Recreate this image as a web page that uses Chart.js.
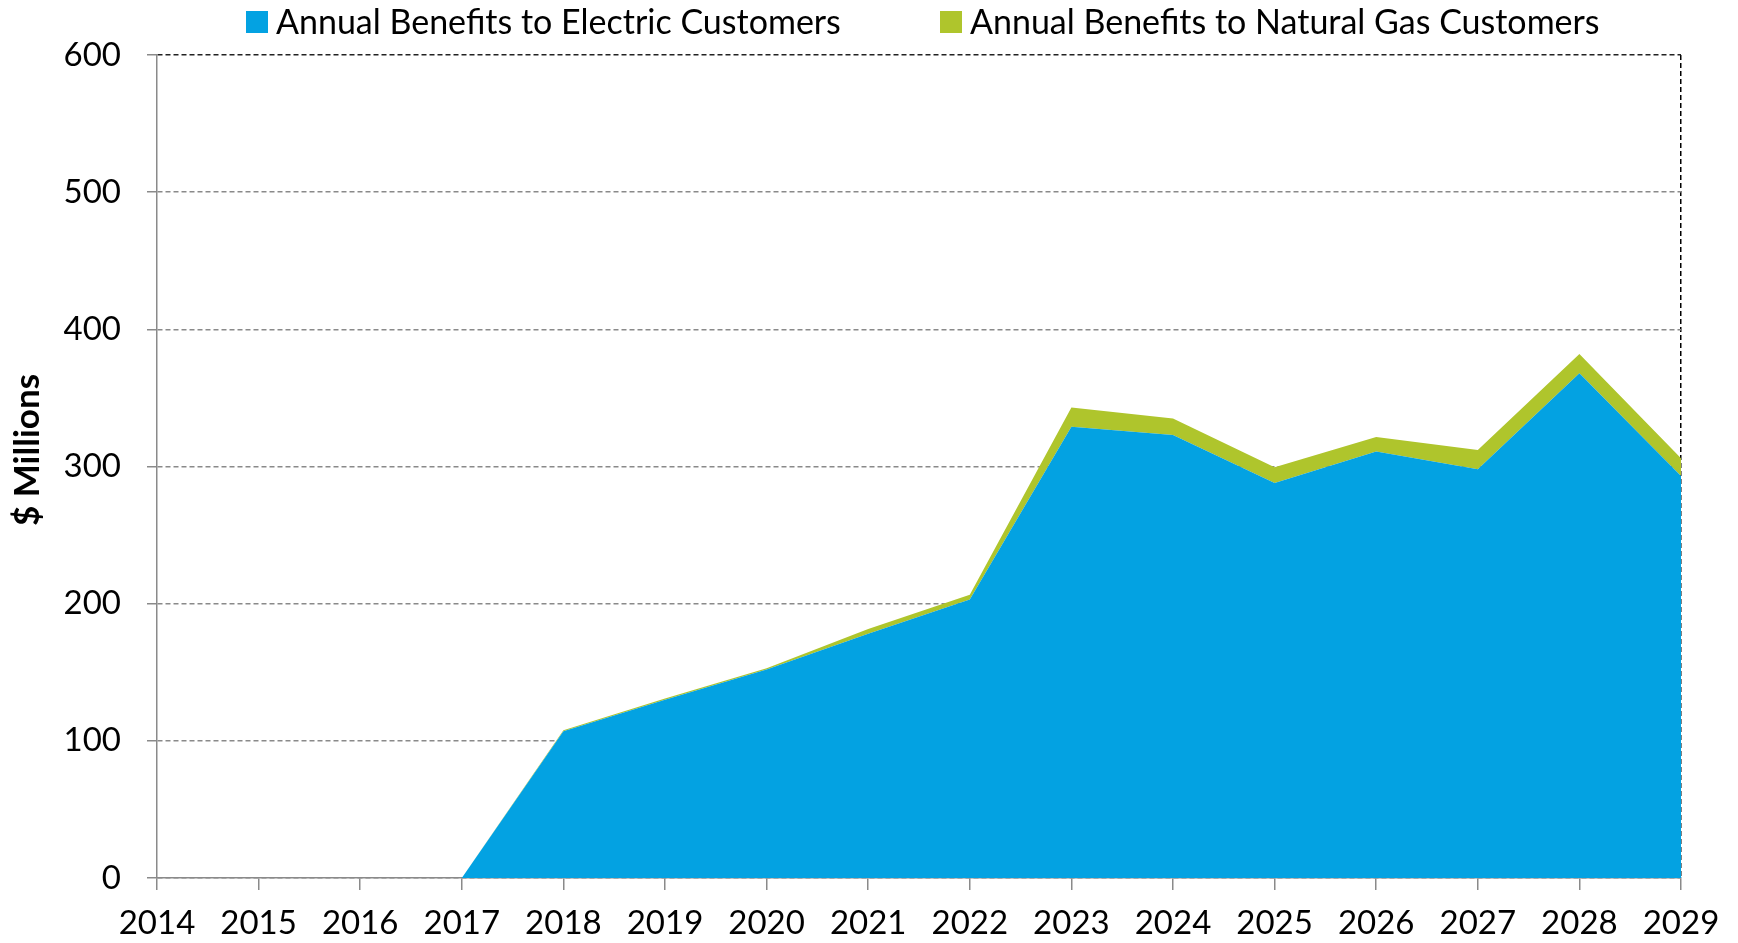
<!DOCTYPE html>
<html>
<head>
<meta charset="utf-8">
<title>Annual Benefits</title>
<script src="https://cdn.jsdelivr.net/npm/chart.js@4/dist/chart.umd.min.js"></script>
<style>
  html, body { margin: 0; padding: 0; background: #fff; }
  canvas { display: block; }
</style>
</head>
<body>
<canvas id="benefits" width="1738" height="943"></canvas>
<script>
// annual benefits, $ millions
const years = ["2014", "2015", "2016", "2017", "2018", "2019", "2020", "2021",
               "2022", "2023", "2024", "2025", "2026", "2027", "2028", "2029"];
const electricBenefits = [0, 0, 0, 0, 107, 130, 152, 178, 203, 329, 323, 288, 311, 298, 368, 293];
const gasBenefits = [0, 0, 0, 0, 0.7, 0.8, 1, 3.5, 3.5, 14, 12, 11.5, 10.5, 14, 14, 13];
const yTicks = [0, 100, 200, 300, 400, 500, 600];

const BLUE = "#03A2E2";
const GREEN = "#AFC52C";
const GRID_GREY = "#8a8a8a";
const FONT = "Lato";

// one-row legend with fixed item positions
const legendRow = {
  id: "legendRow",
  afterDraw(chart, args, opts) {
    const ctx = chart.ctx;
    ctx.save();
    ctx.font = opts.size + "px " + FONT;
    ctx.textBaseline = "middle";
    ctx.textAlign = "left";
    chart.data.datasets.forEach((ds, i) => {
      const x = opts.starts[i];
      ctx.fillStyle = ds.backgroundColor;
      ctx.fillRect(x, opts.y - opts.box / 2, opts.box, opts.box);
      ctx.fillStyle = "#000";
      ctx.fillText(ds.label, x + opts.box + opts.gap, opts.y + 1);
    });
    ctx.restore();
  }
};

// rotated y axis caption, sits a little above the axis middle
const axisCaption = {
  id: "axisCaption",
  afterDraw(chart, args, opts) {
    const ctx = chart.ctx;
    ctx.save();
    ctx.translate(opts.x, opts.y);
    ctx.rotate(-Math.PI / 2);
    ctx.font = "bold " + opts.size + "px " + FONT;
    ctx.textAlign = "center";
    ctx.textBaseline = "middle";
    ctx.fillStyle = "#000";
    ctx.fillText(opts.text, 0, 0);
    ctx.restore();
  }
};

const ctx = document.getElementById("benefits");
const chart = new Chart(ctx, {
  type: "line",
  data: {
    labels: years,
    datasets: [
      {
        label: "Annual Benefits to Electric Customers",
        data: electricBenefits,
        backgroundColor: BLUE,
        borderColor: BLUE,
        borderWidth: 0,
        pointRadius: 0,
        fill: "origin"
      },
      {
        label: "Annual Benefits to Natural Gas Customers",
        data: gasBenefits,
        backgroundColor: GREEN,
        borderColor: GREEN,
        borderWidth: 0,
        pointRadius: 0,
        fill: "-1"
      }
    ]
  },
  options: {
    responsive: false,
    animation: false,
    layout: { padding: { top: 55, right: 57, bottom: 0, left: 0 } },
    plugins: {
      legend: { display: false },
      tooltip: { enabled: false },
      legendRow: { starts: [246, 940], y: 22, box: 22, gap: 8, size: 34 },
      axisCaption: { text: "$ Millions", x: 28, y: 450, size: 35 }
    },
    scales: {
      x: {
        offset: false,
        grid: {
          color: c => (c.index === years.length - 1 ? "#000" : "rgba(0,0,0,0)"),
          lineWidth: 1.5,
          tickColor: GRID_GREY,
          tickLength: 12,
          tickWidth: 1.5
        },
        border: { color: GRID_GREY, width: 1.5, dash: [5, 3] },
        ticks: {
          color: "#000",
          font: { family: FONT, size: 33 },
          padding: 14,
          maxRotation: 0,
          autoSkip: false
        },
        afterFit: scale => { scale.height = 65; }
      },
      y: {
        stacked: true,
        min: 0,
        max: 600,
        grid: {
          color: c => (c.tick && c.tick.value === 600 ? "#222" : GRID_GREY),
          lineWidth: 1.5,
          tickColor: GRID_GREY,
          tickLength: 10,
          tickWidth: 1.5
        },
        border: { color: GRID_GREY, width: 1.5, dash: [5, 3] },
        ticks: {
          color: "#000",
          font: { family: FONT, size: 33 },
          padding: 26,
          stepSize: 100,
          callback: v => (yTicks.includes(v) ? String(v) : null)
        },
        afterFit: scale => { scale.width = 157; }
      }
    }
  },
  plugins: [legendRow, axisCaption]
});
</script>
</body>
</html>
